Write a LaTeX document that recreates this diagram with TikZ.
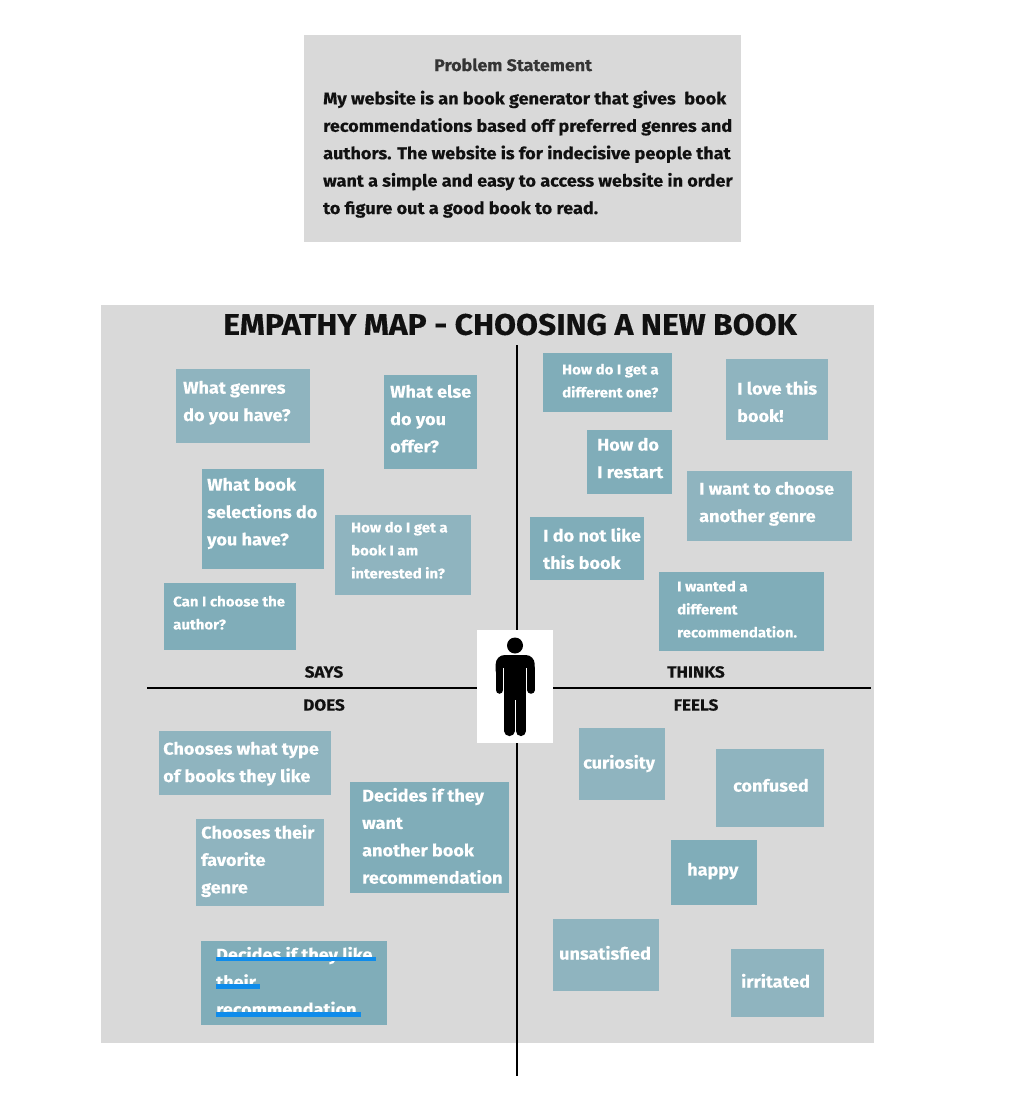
\documentclass[tikz,border=0pt]{standalone}
\usepackage{fontspec}
\setmainfont{Fira Sans}[BoldFont={Fira Sans Bold},BoldFeatures={FakeStretch=1.07,FakeBold=0.25}]
\definecolor{panel}{HTML}{D9D9D9}
\definecolor{noteA}{HTML}{8FB4BF}
\definecolor{noteB}{HTML}{80ADB9}
\definecolor{markblue}{HTML}{0F8CEB}
\definecolor{ink}{HTML}{111111}
\tikzset{x=1pt,y=-1pt,
  inktext/.style={inner sep=0,text=ink,font=\bfseries\fontsize{#1}{1}\selectfont},
  axis/.style={line width=2.4pt,black}}
\newcommand{\stickynote}[7]{%
  \fill[#2] #3;
  \node[anchor=north west,inner sep=0,yshift=-0.6pt,text=white,align=left,font=\bfseries\fontsize{#5}{#6}\selectfont] (#1) at #4 {#7};}
\begin{document}
\begin{tikzpicture}
\useasboundingbox (0,0) rectangle (1018,1106);
\fill[white] (0,0) rectangle (1018,1106);
\fill[panel] (304,35) rectangle (741,242);
\fill[panel] (101,305) rectangle (874,1043);
\node[anchor=base west,inner sep=0,text=ink!85,font=\bfseries\fontsize{16.7}{16.7}\selectfont] (ps) at (434,71) {Problem Statement};
\node[anchor=north west,inner sep=0,text=ink,align=left,font=\bfseries\fontsize{16.9}{27.4}\selectfont] (pst) at (323,90.5) {My website is an book generator that gives\ \ book\\recommendations based off preferred genres and\\authors. The website is for indecisive people that\\want a simple and easy to access website in order\\to figure out a good book to read.};
\node[inktext=29.7] (title) at (510,324.5) {EMPATHY MAP - CHOOSING A NEW BOOK};
\coordinate (vtop) at (516.8,345);
\coordinate (vbot) at (516.8,1076);
\coordinate (hl) at (147,688);
\coordinate (hr) at (871,688);
\draw[axis] (vtop) -- (vbot);
\draw[axis] (hl) -- (hr);
\stickynote{n1}{noteA}{(176,369) rectangle (310,443)}{(183,380)}{16.9}{27.4}{What genres\\do you have?}
\stickynote{n2}{noteB}{(384,375) rectangle (477,469)}{(390,384)}{16.9}{27.4}{What else\\do you\\offer?}
\stickynote{n3}{noteB}{(202,469) rectangle (324,569)}{(207,477)}{16.9}{27.4}{What book\\selections do\\you have?}
\stickynote{n4}{noteA}{(335,515) rectangle (471,595)}{(351,521)}{14}{23}{How do I get a\\book I am\\interested in?}
\stickynote{n5}{noteB}{(164,583) rectangle (296,650)}{(173,595)}{14}{23}{Can I choose the\\author?}
\stickynote{n6}{noteB}{(543,353) rectangle (672,412)}{(562,363)}{14}{23}{How do I get a\\different one?}
\stickynote{n7}{noteA}{(726,359) rectangle (828,440)}{(737,380)}{16.9}{27.4}{I love this\\book!}
\stickynote{n8}{noteB}{(587,430) rectangle (672,494)}{(597,437)}{16.9}{27.4}{How do\\I restart}
\stickynote{n9}{noteA}{(687,471) rectangle (852,541)}{(699,481)}{16.9}{27.4}{I want to choose\\another genre}
\stickynote{n10}{noteB}{(530,517) rectangle (644,580)}{(543,527)}{16.9}{27.4}{I do not like\\this book}
\stickynote{n11}{noteB}{(659,572) rectangle (824,651)}{(677,580)}{14}{23}{I wanted a\\different\\recommendation.}
\node[inktext=16] (says) at (324,672) {SAYS};
\node[inktext=16] (thinks) at (696,672) {THINKS};
\node[inktext=16] (does) at (324,705) {DOES};
\node[inktext=16] (feels) at (696,705) {FEELS};
\stickynote{n12}{noteA}{(159,731) rectangle (331,795)}{(163,741)}{16.9}{27.4}{Chooses what type\\of books they like}
\stickynote{n13}{noteB}{(350,782) rectangle (509,893)}{(362,787)}{16.9}{27.4}{Decides if they\\want\\another book\\recommendation}
\stickynote{n14}{noteA}{(196,819) rectangle (324,906)}{(201,824)}{16.9}{27.4}{Chooses their\\favorite\\genre}
\stickynote{n15}{noteB}{(201,941) rectangle (387,1025)}{(216,946)}{16.9}{27.4}{Decides if they like\\their\\recommendation}
\draw[markblue,line width=4.3pt] (216,959) -- (376,959) (216,986.5) -- (260,986.5) (216,1014.5) -- (361,1014.5);
\stickynote{n16}{noteA}{(579,728) rectangle (665,800)}{(583,754)}{16.9}{27.4}{curiosity}
\stickynote{n17}{noteA}{(716,749) rectangle (824,827)}{(733,778)}{16.9}{27.4}{confused}
\stickynote{n18}{noteB}{(671,840) rectangle (757,905)}{(687,862)}{16.9}{27.4}{happy}
\stickynote{n19}{noteA}{(553,919) rectangle (659,991)}{(559,945)}{16.9}{27.4}{unsatisfied}
\stickynote{n20}{noteA}{(731,949) rectangle (824,1017)}{(741,973)}{16.9}{27.4}{irritated}
\fill[white] (477,630) rectangle (553,743);
\fill[black] (515,645.5) circle (8);
\fill[black,rounded corners=9pt] (495.7,680) -- (495.7,655) -- (534.7,655) -- (534.7,680) -- cycle;
\fill[black] (504.3,660) rectangle (526,700);
\draw[black,line width=7.5pt,line cap=round] (499.5,668) -- (499.5,690);
\draw[black,line width=7.5pt,line cap=round] (530.9,668) -- (530.9,690);
\fill[white] (503.3,668) rectangle (504.3,698);
\fill[white] (526,668) rectangle (527.1,698);
\draw[black,line width=10.2pt,line cap=round] (509.4,695) -- (509.4,731);
\draw[black,line width=10.2pt,line cap=round] (520.8,695) -- (520.8,731);
\end{tikzpicture}
\end{document}
